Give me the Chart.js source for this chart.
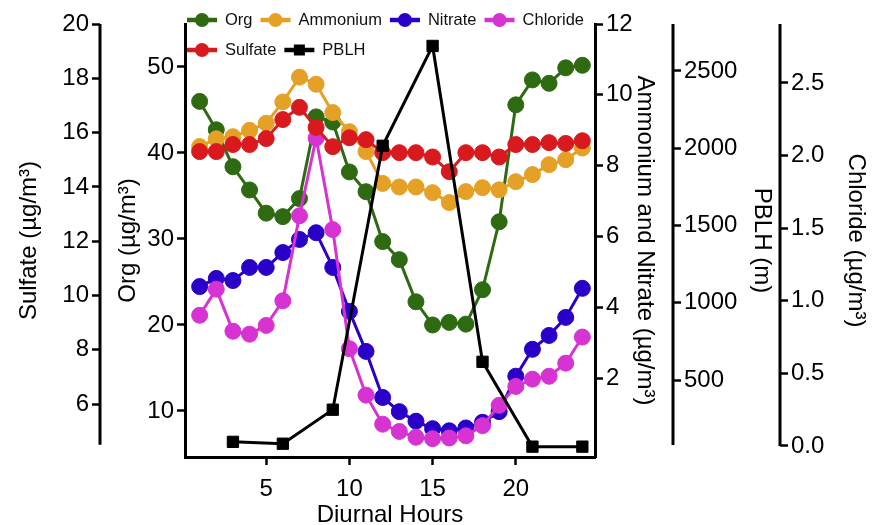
<!DOCTYPE html>
<html>
<head>
<meta charset="utf-8">
<script src="https://cdn.jsdelivr.net/npm/chart.js@4.4.1/dist/chart.umd.min.js"></script>
<style>
    body { margin: 0; background: #fff; }
    #wrap { width: 877px; height: 525px; position: relative; }
</style>
</head>
<body>
<div id="wrap"><canvas id="diurnalChart"></canvas></div>
<script>
// diurnal hours and series
const hours = [1, 2, 3, 4, 5, 6, 7, 8, 9, 10, 11, 12, 13, 14, 15, 16, 17, 18, 19, 20, 21, 22, 23, 24];
const org = [46.0, 42.7, 38.4, 35.7, 33.0, 32.6, 34.7, 44.2, 43.6, 37.8, 35.5, 29.7, 27.6, 22.7, 20.0, 20.3, 20.1, 24.1, 32.0, 45.6, 48.5, 48.1, 49.9, 50.2];
const ammonium = [8.54, 8.76, 8.82, 9.0, 9.2, 9.8, 10.5, 10.3, 9.5, 8.96, 8.4, 7.5, 7.4, 7.4, 7.24, 6.96, 7.27, 7.38, 7.32, 7.55, 7.75, 8.03, 8.17, 8.5];
const nitrate = [4.59, 4.82, 4.76, 5.13, 5.13, 5.55, 5.92, 6.11, 5.13, 3.89, 2.76, 1.46, 1.06, 0.79, 0.58, 0.52, 0.6, 0.76, 1.06, 2.06, 2.82, 3.21, 3.72, 4.54];
const chloride = [0.90, 1.08, 0.79, 0.77, 0.83, 1.00, 1.585, 2.12, 1.49, 0.67, 0.35, 0.15, 0.10, 0.06, 0.05, 0.055, 0.07, 0.14, 0.28, 0.41, 0.46, 0.48, 0.57, 0.75];
const sulfate = [15.3, 15.3, 15.56, 15.56, 15.78, 16.48, 16.93, 16.19, 15.48, 15.81, 15.74, 15.26, 15.26, 15.26, 15.1, 14.56, 15.26, 15.26, 15.1, 15.56, 15.56, 15.63, 15.6, 15.7];
const pblhHours = [3, 6, 9, 12, 15, 18, 21, 24];
const pblh = [100, 88, 308, 2016, 2662, 618, 69, 69];

// tick labels
const xTicks = [5, 10, 15, 20];
const sulfateTicks = [6, 8, 10, 12, 14, 16, 18, 20];
const orgTicks = [10, 20, 30, 40, 50];
const ammoniumTicks = [2, 4, 6, 8, 10, 12];
const pblhTicks = [500, 1000, 1500, 2000, 2500];
const chlorideTicks = [0.0, 0.5, 1.0, 1.5, 2.0, 2.5];

const colors = {
    org: '#2d6a12',
    ammonium: '#e5a126',
    nitrate: '#2a00c8',
    chloride: '#d633d2',
    sulfate: '#d8191e',
    pblh: '#000000'
};

const fontFamily = "'Liberation Sans', Arial, sans-serif";
const tickFont = { family: fontFamily, size: 24 };
const titleFont = { family: fontFamily, size: 24 };

// where the free-standing axis lines stop at the bottom
const axisLineEnds = { ySulfate: 4.5, yPblh: 80, yChloride: 0 };

function toPoints(xs, ys) {
    return xs.map((x, i) => ({ x: x, y: ys[i] }));
}

function yAxis(position, weight, width, min, max, tickValues, title, titlePad, fmt, ownBorder) {
    return {
        type: 'linear',
        position: position,
        weight: weight,
        min: min,
        max: max,
        afterBuildTicks: scale => { scale.ticks = tickValues.map(v => ({ value: v })); },
        afterFit: scale => { scale.width = width; },
        border: { display: !ownBorder, color: '#000', width: 3 },
        grid: { drawOnChartArea: false, color: '#000', tickColor: '#000', tickLength: 8, tickWidth: 2.5 },
        ticks: { color: '#000', font: tickFont, padding: 3, callback: fmt },
        title: { display: true, text: title, color: '#000', font: titleFont, padding: { top: titlePad, bottom: titlePad } }
    };
}

const axisLinePlugin = {
    id: 'axisLines',
    afterDraw(chart) {
        const ctx = chart.ctx;
        ctx.save();
        ctx.strokeStyle = '#000';
        ctx.lineWidth = 3;
        Object.keys(axisLineEnds).forEach(id => {
            const scale = chart.scales[id];
            const x = scale.position === 'left' ? scale.right : scale.left;
            ctx.beginPath();
            ctx.moveTo(x, scale.top);
            ctx.lineTo(x, scale.getPixelForValue(axisLineEnds[id]));
            ctx.stroke();
        });
        ctx.restore();
    }
};

const legendLayout = {
    left: 187,
    rowY: [20, 50],
    rows: [['Org', 'Ammonium', 'Nitrate', 'Chloride'], ['Sulfate', 'PBLH']],
    swatch: 30,
    gap: 8
};

const insetLegendPlugin = {
    id: 'insetLegend',
    afterDraw(chart) {
        const ctx = chart.ctx;
        ctx.save();
        ctx.font = '16.5px ' + fontFamily;
        ctx.textBaseline = 'middle';
        ctx.textAlign = 'left';
        legendLayout.rows.forEach((row, r) => {
            let x = legendLayout.left;
            const y = legendLayout.rowY[r];
            row.forEach(label => {
                const ds = chart.data.datasets.find(d => d.label === label);
                ctx.strokeStyle = ds.borderColor;
                ctx.fillStyle = ds.borderColor;
                ctx.lineWidth = 4.5;
                ctx.beginPath();
                ctx.moveTo(x, y);
                ctx.lineTo(x + legendLayout.swatch, y);
                ctx.stroke();
                const cx = x + legendLayout.swatch / 2;
                if (ds.pointStyle === 'rect') {
                    ctx.fillRect(cx - 5.5, y - 5.5, 11, 11);
                } else {
                    ctx.beginPath();
                    ctx.arc(cx, y, 7, 0, Math.PI * 2);
                    ctx.fill();
                }
                x += legendLayout.swatch + legendLayout.gap;
                ctx.fillStyle = '#111';
                ctx.fillText(label, x, y);
                x += ctx.measureText(label).width + legendLayout.gap;
            });
        });
        ctx.restore();
    }
};

function series(label, xs, ys, axis, color, order, style) {
    return {
        label: label,
        data: toPoints(xs, ys),
        yAxisID: axis,
        borderColor: color,
        backgroundColor: color,
        borderWidth: 3,
        pointStyle: style || 'circle',
        pointRadius: 8,
        pointBorderWidth: 1,
        pointBackgroundColor: color,
        pointBorderColor: color,
        order: order,
        clip: false
    };
}

const ctx = document.getElementById('diurnalChart').getContext('2d');
new Chart(ctx, {
    type: 'line',
    data: {
        datasets: [
            series('Org', hours, org, 'yOrg', colors.org, 5),
            series('Ammonium', hours, ammonium, 'yAmmonium', colors.ammonium, 4),
            series('Nitrate', hours, nitrate, 'yAmmonium', colors.nitrate, 3),
            series('Chloride', hours, chloride, 'yChloride', colors.chloride, 2),
            series('Sulfate', hours, sulfate, 'ySulfate', colors.sulfate, 1),
            series('PBLH', pblhHours, pblh, 'yPblh', colors.pblh, 0, 'rect')
        ]
    },
    options: {
        responsive: true,
        maintainAspectRatio: false,
        animation: false,
        layout: { padding: { top: 24, left: 0, right: 0, bottom: 0 } },
        plugins: {
            legend: { display: false },
            tooltip: { enabled: false }
        },
        scales: {
            x: {
                type: 'linear',
                position: 'bottom',
                min: 0.12,
                max: 24.76,
                afterBuildTicks: scale => { scale.ticks = xTicks.map(v => ({ value: v })); },
                afterFit: scale => { scale.height = 68; },
                border: { display: true, color: '#000', width: 3 },
                grid: { drawOnChartArea: false, color: '#000', tickColor: '#000', tickLength: 8, tickWidth: 2.5 },
                ticks: { color: '#000', font: tickFont, padding: 10, maxRotation: 0, callback: v => String(v) },
                title: { display: true, text: 'Diurnal Hours', color: '#000', font: titleFont, padding: { top: 0, bottom: -5 } }
            },
            ySulfate: yAxis('left', 1, 100, 4.05, 20, sulfateTicks, 'Sulfate (µg/m³)', 15, v => String(v), true),
            yOrg: yAxis('left', 0, 85, 4.65, 55, orgTicks, 'Org (µg/m³)', 13.6, v => String(v), false),
            yAmmonium: yAxis('right', 0, 78, -0.22, 12, ammoniumTicks, 'Ammonium and Nitrate (µg/m³)', 13.6, v => String(v), false),
            yPblh: yAxis('right', 1, 107, 2, 2804, pblhTicks, 'PBLH (m)', 3.6, v => String(v), true),
            yChloride: yAxis('right', 2, 97, -0.076, 2.906, chlorideTicks, 'Chloride (µg/m³)', 6.6, v => v.toFixed(1), true)
        }
    },
    plugins: [axisLinePlugin, insetLegendPlugin]
});
</script>
</body>
</html>
